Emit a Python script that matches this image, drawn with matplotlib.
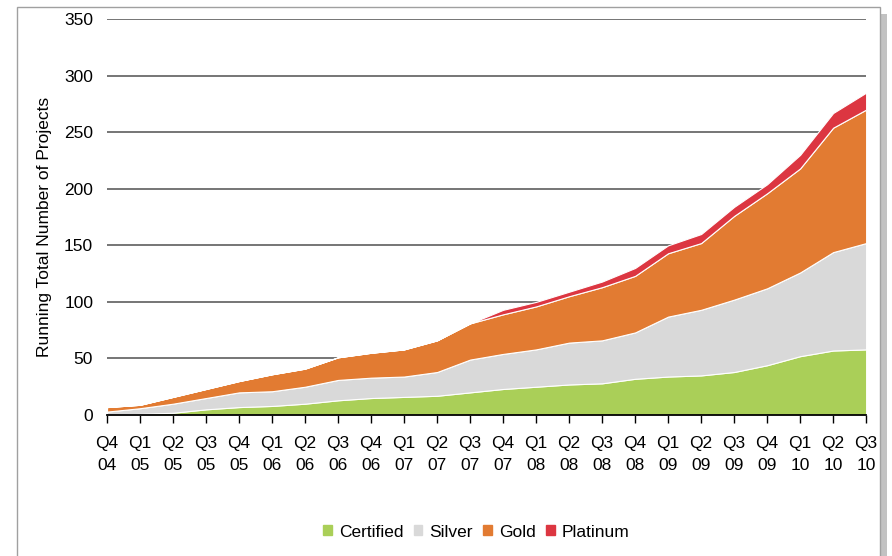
import matplotlib
matplotlib.use("Agg")
from matplotlib import pyplot as plt
from matplotlib import patches as mpatches

plt.rcParams['font.family'] = ['Liberation Sans', 'DejaVu Sans']

quarters = ['Q4\n04', 'Q1\n05', 'Q2\n05', 'Q3\n05', 'Q4\n05', 'Q1\n06', 'Q2\n06',
            'Q3\n06', 'Q4\n06', 'Q1\n07', 'Q2\n07', 'Q3\n07', 'Q4\n07', 'Q1\n08',
            'Q2\n08', 'Q3\n08', 'Q4\n08', 'Q1\n09', 'Q2\n09', 'Q3\n09', 'Q4\n09',
            'Q1\n10', 'Q2\n10', 'Q3\n10']

# running totals per certification level
certified = [0, 1, 2, 5, 7, 8, 10, 13, 15, 16, 17, 20, 23, 25, 27, 28, 32, 34,
             35, 38, 44, 52, 57, 58]
silver = [3, 5, 8, 10, 13, 13, 15, 18, 18, 18, 21, 29, 31, 33, 37, 38, 41, 53,
          58, 64, 68, 74, 87, 94]
gold = [4, 3, 6, 8, 10, 15, 16, 20, 22, 24, 28, 32, 35, 38, 41, 47, 50, 56,
        59, 74, 84, 92, 110, 118]
platinum = [0, 0, 0, 0, 0, 0, 0, 0, 0, 0, 0, 0, 4, 4, 4, 5, 7, 7, 8, 8, 8,
            12, 13, 15]

labels = ['Certified', 'Silver', 'Gold', 'Platinum']
colors = ['#AACF58', '#D9D9D9', '#E27B32', '#DC3641']

FS = 12.5

fig = plt.figure(figsize=(8.92, 5.56), dpi=100)
ax = fig.add_axes([0.12, 0.2536, 0.851, 0.712])

x = list(range(len(quarters)))
ax.stackplot(x, certified, silver, gold, platinum, colors=colors,
             edgecolor='white', linewidth=0.8, zorder=2)

ax.set_xlim(0, len(quarters) - 1)
ax.set_ylim(0, 350)
ax.set_yticks(range(0, 351, 50))
ax.set_xticks(x)
ax.set_xticklabels(quarters, linespacing=1.6)
ax.yaxis.grid(True, color='#505050', linewidth=1.1, zorder=0)
ax.set_axisbelow(True)

for side in ['left', 'right', 'top']:
    ax.spines[side].set_visible(False)
ax.spines['bottom'].set_color('black')
ax.spines['bottom'].set_linewidth(1.3)
ax.spines['bottom'].set_zorder(3)

ax.tick_params(axis='y', length=0, pad=10, labelsize=FS)
ax.tick_params(axis='x', length=6, width=1, direction='out', pad=9,
               labelsize=FS)
ax.set_ylabel('Running Total Number of Projects', fontsize=FS)
ax.yaxis.set_label_coords(-0.073, 0.475)

handles = [mpatches.Patch(color=c, label=l) for c, l in zip(colors, labels)]
fig.legend(handles=handles, loc='center', bbox_to_anchor=(0.534, 0.043),
           ncol=4, frameon=False, fontsize=FS, handlelength=0.5,
           handleheight=0.5, handletextpad=0.4, columnspacing=0.6)

# outer frame with a shadow on the right
fig.patches.append(mpatches.Rectangle((0.9866, 0.0), 0.008, 0.975,
                                      transform=fig.transFigure,
                                      facecolor='#9a9a9a', edgecolor='none',
                                      alpha=0.6))
fig.patches.append(mpatches.Rectangle((0.019, -0.01), 0.9676, 0.997,
                                      transform=fig.transFigure,
                                      facecolor='none', edgecolor='#a0a0a0',
                                      linewidth=1.0))

fig.savefig('out.png', dpi=100)
